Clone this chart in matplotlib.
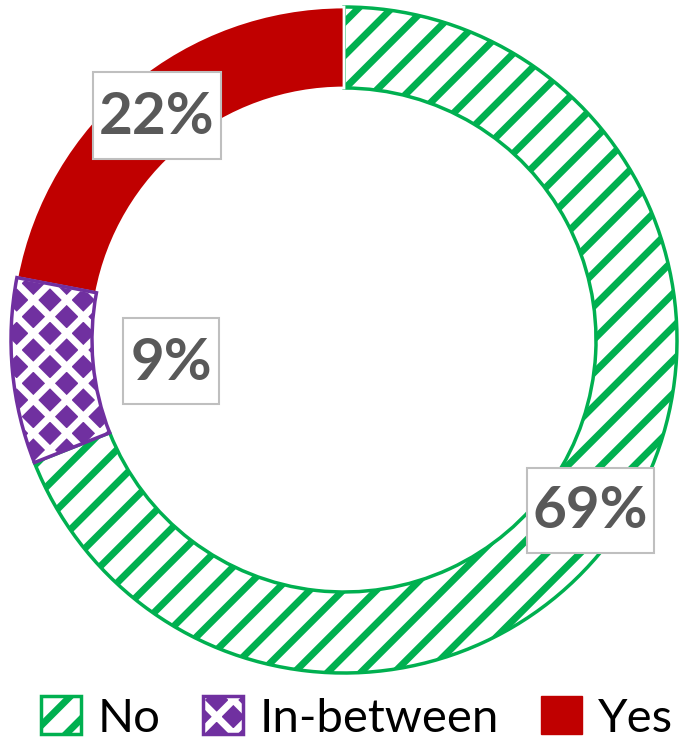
import matplotlib
matplotlib.use('Agg')
import matplotlib.pyplot as plt
from matplotlib.patches import Patch, Wedge, Rectangle
from matplotlib.legend_handler import HandlerTuple

# data
labels = ['No', 'In-between', 'Yes']
values = [69, 9, 22]
colors = ['#00B050', '#7030A0', '#C00000']

plt.rcParams['hatch.linewidth'] = 5.0
plt.rcParams['font.family'] = ['Lato', 'DejaVu Sans']

W, H = 680, 740
cx, cy, R, r = 344, 340, 333, 252


def px2data(px, py):
    return (px - cx) / R, (cy - py) / R


fig = plt.figure(figsize=(W / 100, H / 100), dpi=100)
ax = fig.add_axes([0, 0, 1, 1])

wedges, _ = ax.pie(values, startangle=90, counterclock=False, radius=1,
                   wedgeprops=dict(width=(R - r) / R))
ax.set_xlim(-cx / R, (W - cx) / R)
ax.set_ylim(-(H - cy) / R, cy / R)
ax.set_aspect('auto')
ax.axis('off')

# No: green stripes on white with green border
wedges[0].set_facecolor('white')
wedges[0].set_edgecolor(colors[0])
wedges[0].set_hatch('/')
wedges[0].set_linewidth(2.5)

# In-between: purple diamonds (white cross hatch over purple) + purple border
wedges[1].set_facecolor(colors[1])
wedges[1].set_edgecolor('white')
wedges[1].set_hatch('x')
wedges[1].set_linewidth(0)
border = Wedge((0, 0), 1, wedges[1].theta1, wedges[1].theta2, width=(R - r) / R,
               fill=False, edgecolor=colors[1], linewidth=2.5)
ax.add_patch(border)

# Yes: solid red, white separator
wedges[2].set_facecolor(colors[2])
wedges[2].set_edgecolor('white')
wedges[2].set_linewidth(2)

# percentage labels in boxes (pixel centre and box size)
label_pos = [(590, 510), (171, 361), (157, 115)]
box_size = [(127, 85), (96, 86), (128, 87)]
for v, (px, py), (bw, bh) in zip(values, label_pos, box_size):
    x0, y0 = px2data(px - bw / 2, py + bh / 2)
    ax.add_patch(Rectangle((x0, y0), bw / R, bh / R, facecolor='white',
                           edgecolor='#BFBFBF', linewidth=1.5, zorder=3))
    tx, ty = px2data(px, py + 2)
    ax.text(tx, ty, f'{v}%', fontsize=42, fontweight='bold',
            color='#595959', ha='center', va='center', zorder=4)

# legend
h_no = Patch(facecolor='white', edgecolor=colors[0], hatch='/', linewidth=2.5)
h_mid = (Patch(facecolor=colors[1], edgecolor='white', hatch='x', linewidth=0),
         Patch(fill=False, edgecolor=colors[1], linewidth=2.5))
h_yes = Patch(facecolor=colors[2], edgecolor=colors[2])
fig.legend([h_no, h_mid, h_yes], labels,
           handler_map={tuple: HandlerTuple(ndivide=1, pad=0)},
           loc='center', bbox_to_anchor=(357 / W, 1 - 718 / H), ncol=3, frameon=False,
           fontsize=34, handlelength=0.85, handleheight=0.85, handletextpad=0.35,
           columnspacing=0.9, borderpad=0, borderaxespad=0)

fig.savefig('out.png', dpi=100)
